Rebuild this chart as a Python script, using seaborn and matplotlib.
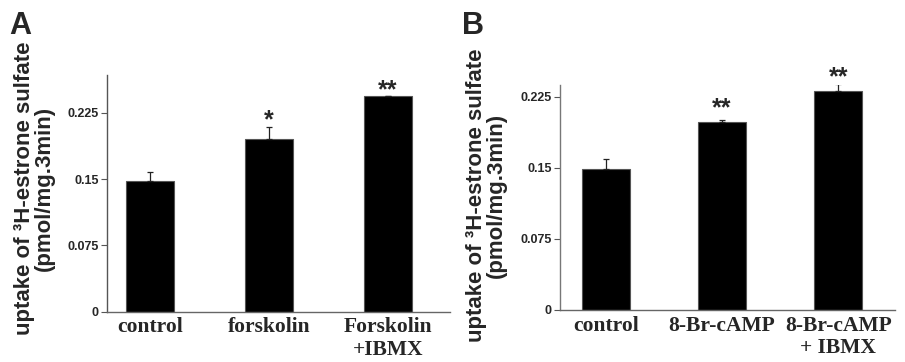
import numpy as np
import pandas as pd
import matplotlib
matplotlib.use("Agg")
import matplotlib.pyplot as plt
import seaborn as sns

# ---- data ----
cats_a = ["control", "forskolin", "Forskolin\n+IBMX"]
vals_a = [0.148, 0.1953, 0.2442]
errs_a = [0.0105, 0.0137, 0.0]
stars_a = ["", "*", "**"]

cats_b = ["control", "8-Br-cAMP", "8-Br-cAMP\n+ IBMX"]
vals_b = [0.1486, 0.198, 0.231]
errs_b = [0.0104, 0.002, 0.007]
stars_b = ["", "**", "**"]

yticks = [0, 0.075, 0.15, 0.225]
ytick_labels = ["0", "0.075", "0.15", "0.225"]

sns.set_style("white")
plt.rcParams["font.family"] = ["Liberation Sans", "DejaVu Sans"]

fig = plt.figure(figsize=(9.05, 3.62), dpi=100)
ax_a = fig.add_axes([107/905, 50.3/362, 343/905, 236.7/362])
ax_b = fig.add_axes([560/905, 52/362, 335/905, 225/362])


def draw(ax, cats, vals, errs, stars, ylim_top, xlim, ydotted, star_offsets, label_letter, letter_x):
    df = pd.DataFrame({"cat": cats, "val": vals})
    sns.barplot(data=df, x="cat", y="val", color="black", width=0.41,
                edgecolor="#555555", linewidth=0.8, saturation=1, ax=ax)
    x = np.arange(len(cats))
    ax.errorbar(x, vals, yerr=[np.zeros(len(errs)), errs], fmt="none",
                ecolor="#222222", elinewidth=0.9, capsize=2.2, capthick=0.9)
    for xi, v, e, s, off in zip(x, vals, errs, stars, star_offsets):
        if s:
            ax.annotate(s, xy=(xi, v + e), xytext=(0, off), textcoords="offset points",
                        ha="center", va="center", fontsize=18, fontweight="bold",
                        family=["Liberation Sans", "DejaVu Sans"], annotation_clip=False)
    ax.set_ylim(0, ylim_top)
    ax.set_xlim(*xlim)
    ax.set_yticks(yticks)
    ax.set_yticklabels(ytick_labels, fontsize=9, fontweight="bold")
    ax.set_xticks(x)
    ax.set_xticklabels(cats, fontsize=15.5, fontweight="bold",
                       family=["Liberation Serif", "DejaVu Serif"], linespacing=1.15)
    ax.tick_params(axis="y", direction="out", length=4, width=0.8, color="#555555", pad=2, left=True)
    ax.tick_params(axis="x", length=0, pad=4)
    for sp in ["top", "right"]:
        ax.spines[sp].set_visible(False)
    ax.spines["bottom"].set_color("#666666")
    ax.spines["bottom"].set_linewidth(1.0)
    ax.spines["left"].set_color("#555555")
    ax.spines["left"].set_linewidth(1.0)
    if ydotted:
        ax.spines["left"].set_linestyle((0, (1, 1)))
        ax.spines["left"].set_color("#777777")
    ax.set_xlabel("")
    ax.set_ylabel("uptake of \u00b3H-estrone sulfate\n(pmol/mg.3min)",
                  fontsize=16, fontweight="bold", linespacing=0.92)
    fig.text(letter_x, 1 - 26/362, label_letter, fontsize=22, fontweight="bold",
             ha="left", va="center")


draw(ax_a, cats_a, vals_a, errs_a, stars_a, 0.268, (-0.361, 2.52), False,
     [2, 5, 4], "A", 9/905)
ax_a.yaxis.set_label_coords(-0.152, 0.52)

draw(ax_b, cats_b, vals_b, errs_b, stars_b, 0.2373, (-0.397, 2.49), True,
     [2, 9, 5], "B", 462/905)
ax_b.yaxis.set_label_coords(-0.158, 0.51)

fig.savefig("out.png", dpi=100)
